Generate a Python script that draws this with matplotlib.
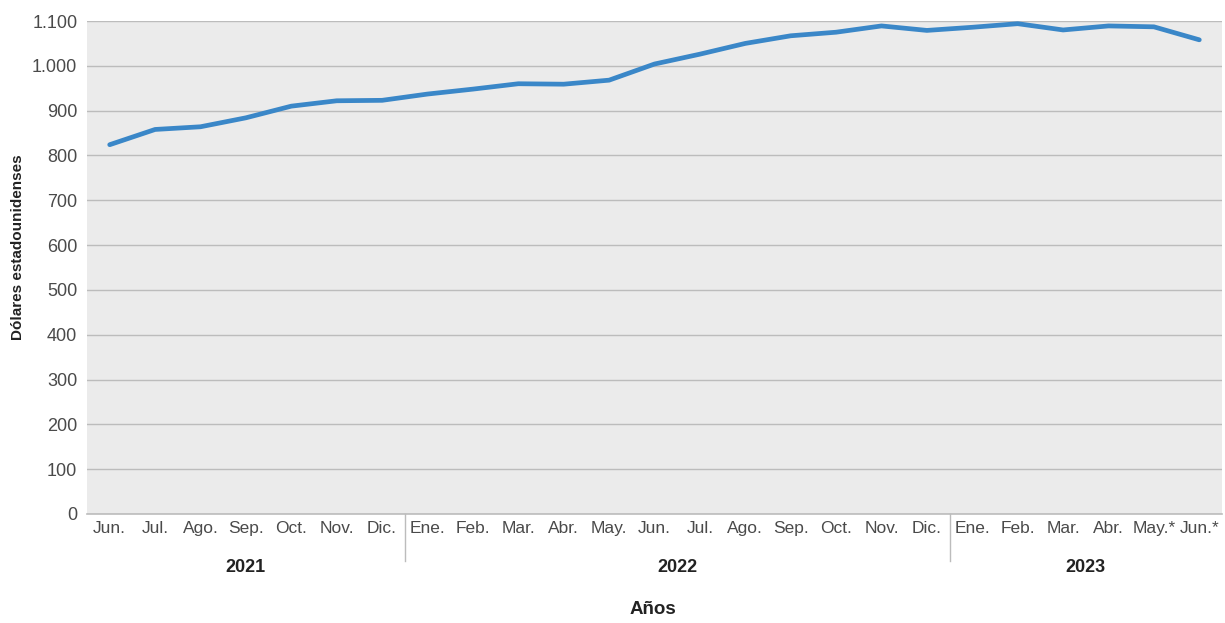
import matplotlib.pyplot as plt
import matplotlib.transforms as mtransforms
from matplotlib import font_manager

# =====================================================
# DONNÉES
# =====================================================

meses = ["Jun.", "Jul.", "Ago.", "Sep.", "Oct.", "Nov.", "Dic.",
         "Ene.", "Feb.", "Mar.", "Abr.", "May.", "Jun.", "Jul.", "Ago.", "Sep.", "Oct.", "Nov.", "Dic.",
         "Ene.", "Feb.", "Mar.", "Abr.", "May.*", "Jun.*"]

valores = [824, 858, 864, 884, 910, 922, 923,
           937, 948, 960, 959, 968, 1004, 1026, 1050, 1067, 1075, 1089, 1079,
           1086, 1094, 1080, 1089, 1087, 1058]

anios = ["2021", "2022", "2023"]
meses_por_anio = [7, 12, 6]

yticks = [0, 100, 200, 300, 400, 500, 600, 700, 800, 900, 1000, 1100]

# =====================================================
# POLICE
# =====================================================

noms = {f.name for f in font_manager.fontManager.ttflist}
police = "Liberation Sans Narrow" if "Liberation Sans Narrow" in noms else "Liberation Sans"
plt.rcParams["font.family"] = [police, "DejaVu Sans"]

# =====================================================
# FIGURE
# =====================================================

W, H = 1225, 623
fig = plt.figure(figsize=(W / 100, H / 100), dpi=100)
ax = fig.add_axes([87 / W, (H - 514) / H, (1222 - 87) / W, (514 - 21) / H])
ax.set_facecolor("#ebebeb")

x = list(range(len(valores)))
ax.plot(x, valores, color="#3a87c8", linewidth=3.4, solid_capstyle="round",
        solid_joinstyle="round", zorder=3)

ax.set_xlim(-0.5, len(valores) - 0.5)
ax.set_ylim(0, 1100)

ax.set_yticks(yticks)
ax.set_yticklabels([f"{v:,}".replace(",", ".") for v in yticks])
ax.yaxis.grid(True, color="#bcbcbc", linewidth=1.0)
ax.set_axisbelow(True)

ax.set_xticks(x)
ax.set_xticklabels(meses)
ax.tick_params(axis="both", length=0, labelsize=12.5, labelcolor="#4a4a4a")
ax.tick_params(axis="y", labelsize=13, pad=7)
ax.tick_params(axis="x", pad=5)

for s in ["top", "right", "left"]:
    ax.spines[s].set_visible(False)
ax.spines["bottom"].set_color("#bcbcbc")
ax.spines["bottom"].set_linewidth(1.2)

# Séparateurs et années
trans = mtransforms.blended_transform_factory(ax.transData, ax.transAxes)
debut = 0
for i, (an, n) in enumerate(zip(anios, meses_por_anio)):
    centre = debut + (n - 1) / 2
    ax.text(centre, -0.108, an, transform=trans, ha="center", va="center",
            fontsize=13, fontweight="bold", color="#222222")
    if i < len(anios) - 1:
        sep = debut + n - 0.5
        ax.plot([sep, sep], [0, -0.095], transform=trans, color="#bcbcbc",
                linewidth=1.0, clip_on=False)
    debut += n

fig.text(653 / W, 1 - 610 / H, "Años", ha="center", va="center",
         fontsize=13.5, fontweight="bold", color="#222222")
fig.text(18 / W, 1 - 247 / H, "Dólares estadounidenses", ha="center", va="center",
         rotation=90, fontsize=11, fontweight="bold", color="#222222")

plt.savefig("out.png", dpi=100)
